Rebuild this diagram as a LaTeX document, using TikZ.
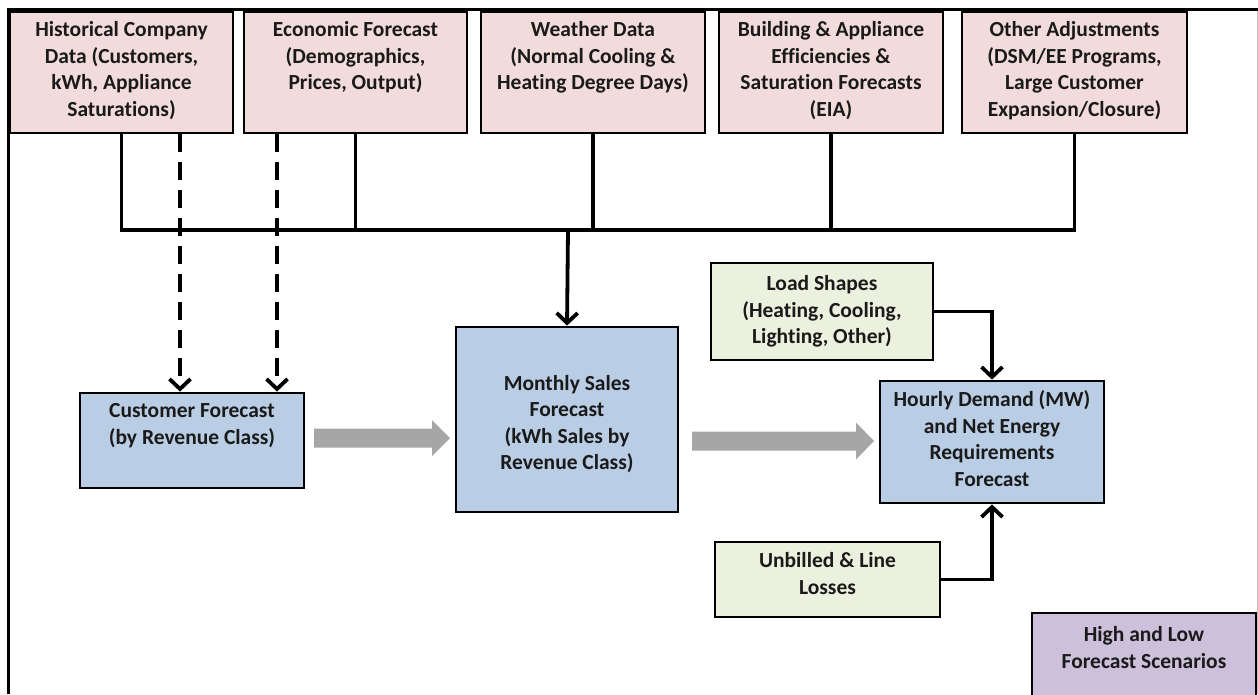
\documentclass[tikz,border=0pt]{standalone}
\usepackage{fontspec}
\setmainfont{Carlito}[Ligatures=NoCommon]
\usetikzlibrary{arrows.meta,calc}
\definecolor{pinkc}{HTML}{F2DCDB}
\definecolor{bluec}{HTML}{B9CDE5}
\definecolor{greenc}{HTML}{EBF1DE}
\definecolor{purplec}{HTML}{CCC0DA}
\definecolor{arrowgray}{HTML}{A6A6A6}
\definecolor{txtc}{HTML}{1A1A1A}
\tikzset{
  box/.style={draw=black, line width=2.8pt, rectangle, inner sep=0pt},
  txt/.style={anchor=north, inner sep=0pt, align=center, text=txtc,
    font=\fontsize{21.5}{26.5}\selectfont\bfseries},
  conn/.style={line width=3.8pt, draw=black},
  tipV/.style={-{Straight Barb[length=10pt,width=21pt]}},
  dashconn/.style={conn, dash pattern=on 18pt off 10pt},
  grayarrow/.style={fill=arrowgray, draw=none}
}
\begin{document}
\begin{tikzpicture}[x=1pt,y=-1pt]
\useasboundingbox (0,0) rectangle (1258,694);
\fill[white] (0,0) rectangle (1258,694);
% frame
\draw[line width=1pt, draw=black!25] (1257,9) -- (1257,694);
\draw[line width=3pt] (8,694) -- (8,9) -- (1258,9);

% top boxes
\node[box, fill=pinkc, minimum width=223pt, minimum height=121pt] (h1) at (121.5,72.5) {};
\node[box, fill=pinkc, minimum width=223pt, minimum height=121pt] (h2) at (355.5,72.5) {};
\node[box, fill=pinkc, minimum width=224pt, minimum height=121pt] (h3) at (593,72.5) {};
\node[box, fill=pinkc, minimum width=224pt, minimum height=121pt] (h4) at (831,72.5) {};
\node[box, fill=pinkc, minimum width=225pt, minimum height=121pt] (h5) at (1074.5,72.5) {};
\node[txt] (t1) at (121.5,18) {\strut Historical Company\\Data (Customers,\\kWh, Appliance\\Saturations)};
\node[txt] (t2) at (355.5,18) {\strut Economic Forecast\\(Demographics,\\Prices, Output)};
\node[txt] (t3) at (593,18) {\strut Weather Data\\(Normal Cooling \&\\Heating Degree Days)};
\node[txt] (t4) at (831,18) {\strut Building \& Appliance\\Efficiencies \&\\Saturation Forecasts\\(EIA)};
\node[txt] (t5) at (1074.5,18) {\strut Other Adjustments\\(DSM/EE Programs,\\Large Customer\\Expansion/Closure)};

% middle boxes
\node[box, fill=bluec, minimum width=224pt, minimum height=95pt] (cust) at (192,440.5) {};
\node[txt] (tc) at (192,399) {\strut Customer Forecast\\(by Revenue Class)};
\node[box, fill=bluec, minimum width=222pt, minimum height=185pt] (month) at (567,419.5) {};
\node[txt] (tm) at (567,371.5) {\strut Monthly Sales\\Forecast\\(kWh Sales by\\Revenue Class)};
\node[box, fill=greenc, minimum width=222pt, minimum height=97pt] (load) at (822,311.5) {};
\node[txt] (tl) at (822,272) {\strut Load Shapes\\(Heating, Cooling,\\Lighting, Other)};
\node[box, fill=bluec, minimum width=224pt, minimum height=122pt] (hour) at (992,442) {};
\node[txt] (th) at (992,388) {\strut Hourly Demand (MW)\\and Net Energy\\Requirements\\Forecast};
\node[box, fill=greenc, minimum width=225pt, minimum height=75pt] (unb) at (827.5,579.5) {};
\node[txt] (tu) at (827.5,549) {\strut Unbilled \& Line\\Losses};
\node[box, fill=purplec, minimum width=224pt, minimum height=100pt] (high) at (1144,663) {};
\node[txt] (thl) at (1144,623) {\strut High and Low\\Forecast Scenarios};

% tree connectors
\coordinate (bus) at (568,230);
\draw[conn, line join=miter] (h1.south) -- (h1.south |- bus) -- (h5.south |- bus) -- (h5.south);
\draw[conn] (h2.south) -- (h2.south |- bus);
\draw[conn] (h3.south) -- (h3.south |- bus);
\draw[conn] (h4.south) -- (h4.south |- bus);
\draw[conn, tipV] (bus) -- (month.north);

% dashed connectors
\coordinate (d1) at (180,0);
\coordinate (d2) at (277,0);
\draw[dashconn, tipV] (h1.south -| d1) -- (cust.north -| d1);
\draw[dashconn, tipV] (h2.south -| d2) -- (cust.north -| d2);

% load / unbilled connectors
\draw[conn, tipV, line join=miter] (load.east) -| (hour.north);
\draw[conn, tipV, line join=miter] (unb.east) -| (hour.south);

% gray block arrows
\coordinate (a1s) at (314,438);
\coordinate (a1e) at (450,438);
\coordinate (a2s) at (692,441);
\coordinate (a2e) at (874,441);
\fill[grayarrow] ($(a1s)+(0,-9.5)$) -- ($(a1e)+(-18,-9.5)$) -- ($(a1e)+(-18,-18)$) -- (a1e)
  -- ($(a1e)+(-18,18)$) -- ($(a1e)+(-18,9.5)$) -- ($(a1s)+(0,9.5)$) -- cycle;
\fill[grayarrow] ($(a2s)+(0,-9.5)$) -- ($(a2e)+(-18,-9.5)$) -- ($(a2e)+(-18,-18.5)$) -- (a2e)
  -- ($(a2e)+(-18,18.5)$) -- ($(a2e)+(-18,9.5)$) -- ($(a2s)+(0,9.5)$) -- cycle;
\end{tikzpicture}
\end{document}
